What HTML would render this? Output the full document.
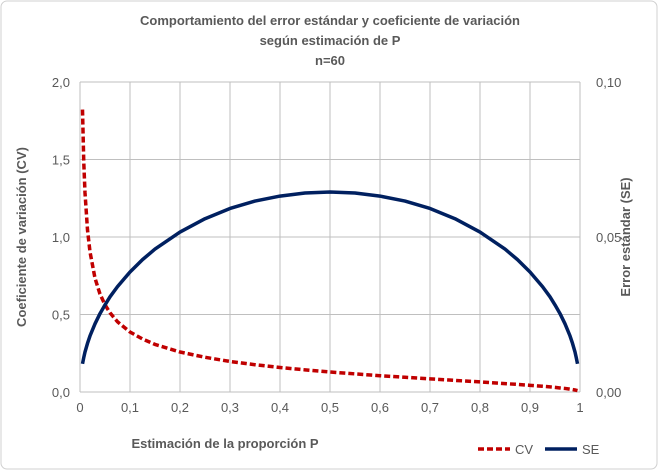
<!DOCTYPE html>
<html><head><meta charset="utf-8"><style>
body{margin:0;background:#fff;font-family:"Liberation Sans",sans-serif}
svg text{font-family:"Liberation Sans",sans-serif;fill:#595959}
</style></head><body>
<svg id="c" width="658" height="470">
<rect x="1" y="1" width="656" height="468" rx="6" fill="#fff" stroke="#d0d0d0"/>
<text x="330" y="25" text-anchor="middle" font-size="13" font-weight="bold">Comportamiento  del error estándar y coeficiente de variación</text>
<text x="330" y="45" text-anchor="middle" font-size="13" font-weight="bold">según estimación de P</text>
<text x="330" y="65" text-anchor="middle" font-size="13" font-weight="bold">n=60</text>
<g id="grid"></g><g id="ticks"></g><g id="series"></g>
<text transform="translate(26,237) rotate(-90)" text-anchor="middle" font-size="13" font-weight="bold">Coeficiente de variación (CV)</text>
<text transform="translate(630,237) rotate(-90)" text-anchor="middle" font-size="13" font-weight="bold">Error estándar (SE)</text>
<text x="225" y="448" text-anchor="middle" font-size="13" font-weight="bold">Estimación de la proporción  P</text>
<g>
<line x1="478" y1="449" x2="510" y2="449" stroke="#c00000" stroke-width="3.5" stroke-dasharray="6,3"/>
<text x="515" y="454" font-size="13">CV</text>
<line x1="545" y1="449" x2="577" y2="449" stroke="#002060" stroke-width="3.5"/>
<text x="582" y="454" font-size="13">SE</text>
</g>
</svg>
<script>
const pValues=[0.005,0.0075,0.01,0.015,0.02,0.03,0.04,0.05,0.06,0.075,0.1,0.125,0.15,0.2,0.25,0.3,0.35,0.4,0.45,0.5,0.55,0.6,0.65,0.7,0.75,0.8,0.85,0.875,0.9,0.925,0.94,0.95,0.96,0.97,0.98,0.985,0.99,0.9925,0.995];
const seValues=[0.0091,0.0111,0.0129,0.0157,0.0181,0.0220,0.0253,0.0281,0.0307,0.0340,0.0387,0.0427,0.0461,0.0516,0.0559,0.0592,0.0616,0.0632,0.0642,0.0645,0.0642,0.0632,0.0616,0.0592,0.0559,0.0516,0.0461,0.0427,0.0387,0.0340,0.0307,0.0281,0.0253,0.0220,0.0181,0.0157,0.0129,0.0111,0.0091];
const cvValues=[1.822,1.485,1.285,1.046,0.904,0.734,0.632,0.563,0.511,0.453,0.387,0.342,0.307,0.258,0.224,0.197,0.176,0.158,0.143,0.129,0.117,0.105,0.095,0.085,0.075,0.065,0.054,0.049,0.043,0.037,0.033,0.030,0.026,0.023,0.018,0.016,0.013,0.011,0.009];
const xTicks=["0","0,1","0,2","0,3","0,4","0,5","0,6","0,7","0,8","0,9","1"];
const yLeftTicks=["0,0","0,5","1,0","1,5","2,0"];
const yRightTicks=["0,00","0,05","0,10"];
const X0=80,X1=580,Y0=392,Y1=82,NS="http://www.w3.org/2000/svg";
const sx=v=>X0+v*(X1-X0), syL=v=>Y0-v/2*(Y0-Y1), syR=v=>Y0-v/0.1*(Y0-Y1);
function mk(t,a,p){const e=document.createElementNS(NS,t);for(const k in a)e.setAttribute(k,a[k]);p.appendChild(e);return e;}
const g=document.getElementById('grid'),tk=document.getElementById('ticks'),s=document.getElementById('series');
xTicks.forEach((l,i)=>{const x=sx(i/10);
 const ln=mk('line',{x1:x,x2:x,y1:Y1,y2:Y0,stroke:'#bfbfbf'},g);
 
 
 const t=mk('text',{x:x,y:Y0+20,'text-anchor':'middle','font-size':'13'},tk);t.textContent=l;
 
 });
yLeftTicks.forEach((l,i)=>{const y=syL(i*0.5);
 const ln=mk('line',{x1:X0,x2:X1,y1:y,y2:y,stroke:'#bfbfbf'},g);
 
 
 const t=mk('text',{x:X0-10,y:y+5,'text-anchor':'end','font-size':'13'},tk);t.textContent=l;
 
 });
yRightTicks.forEach((l,i)=>{const y=syR(i*0.05);
 const t=mk('text',{x:X1+16,y:y+5,'text-anchor':'start','font-size':'13'},tk);t.textContent=l;
 
 });
const cv=mk('polyline',{points:pValues.map((p,i)=>sx(p)+','+syL(cvValues[i])).join(' '),fill:'none',stroke:'#c00000','stroke-width':3.5,'stroke-dasharray':'6,3','stroke-linejoin':'round'},s);


const se=mk('polyline',{points:pValues.map((p,i)=>sx(p)+','+syR(seValues[i])).join(' '),fill:'none',stroke:'#002060','stroke-width':3.5,'stroke-linejoin':'round'},s);


</script>
</body></html>
